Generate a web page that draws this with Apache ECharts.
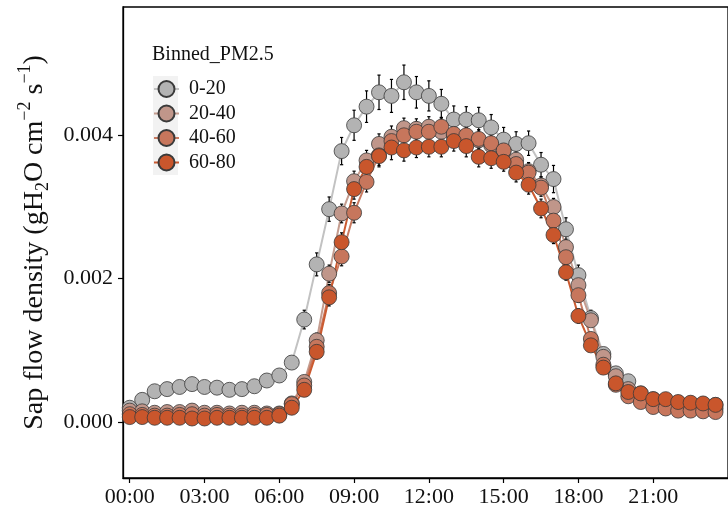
<!DOCTYPE html>
<html>
<head>
<meta charset="utf-8">
<script src="https://cdn.jsdelivr.net/npm/echarts@6/dist/echarts.min.js"></script>
<style>
html,body{margin:0;padding:0;background:#fff;}
#chart{width:728px;height:513px;}
</style>
</head>
<body>
<div id="chart"></div>
<script>
const hours = [0,0.5,1,1.5,2,2.5,3,3.5,4,4.5,5,5.5,6,6.5,7,7.5,8,8.5,9,9.5,10,10.5,11,11.5,12,12.5,13,13.5,14,14.5,15,15.5,16,16.5,17,17.5,18,18.5,19,19.5,20,20.5,21,21.5,22,22.5,23,23.5];

const seriesNames = ['0-20','20-40','40-60','60-80'];

const v0_20 = [0.00020,0.00031,0.00043,0.00046,0.00049,0.00053,0.00049,0.00048,0.00045,0.00046,0.00050,0.00058,0.00065,
  0.00083,0.00143,0.00220,0.00297,0.00378,0.00414,0.00440,0.00460,0.00455,0.00474,0.00460,0.00455,
  0.00444,0.00422,0.00422,0.00421,0.00411,0.00394,0.00388,0.00389,0.00359,0.00339,0.00269,0.00205,
  0.00145,0.00095,0.00068,0.00057,0.00040,0.00032,0.00030,0.00027,0.00026,0.00025,0.00024];
const v20_40 = [0.00016,0.00015,0.00013,0.00014,0.00014,0.00016,0.00013,0.00013,0.00012,0.00013,0.00013,0.00012,0.00012,
  0.00026,0.00056,0.00114,0.00207,0.00291,0.00336,0.00365,0.00388,0.00398,0.00410,0.00409,0.00412,
  0.00405,0.00400,0.00398,0.00393,0.00386,0.00378,0.00366,0.00350,0.00330,0.00300,0.00244,0.00191,
  0.00142,0.00091,0.00064,0.00046,0.00034,0.00028,0.00025,0.00022,0.00021,0.00020,0.00019];
const v40_60 = [0.00011,0.00010,0.00009,0.00009,0.00010,0.00011,0.00009,0.00010,0.00009,0.00009,0.00010,0.00010,0.00011,
  0.00025,0.00051,0.00105,0.00180,0.00231,0.00292,0.00335,0.00372,0.00392,0.00400,0.00405,0.00405,
  0.00412,0.00402,0.00400,0.00395,0.00389,0.00379,0.00360,0.00348,0.00327,0.00281,0.00230,0.00177,
  0.00116,0.00080,0.00052,0.00036,0.00028,0.00021,0.00019,0.00016,0.00016,0.00015,0.00014];
const v60_80 = [0.00007,0.00007,0.00006,0.00006,0.00006,0.00005,0.00005,0.00006,0.00006,0.00006,0.00006,0.00006,0.00009,
  0.00020,0.00045,0.00098,0.00174,0.00251,0.00325,0.00356,0.00371,0.00383,0.00379,0.00383,0.00384,
  0.00384,0.00392,0.00385,0.00370,0.00368,0.00363,0.00348,0.00331,0.00298,0.00261,0.00209,0.00148,
  0.00107,0.00076,0.00054,0.00042,0.00040,0.00032,0.00032,0.00028,0.00027,0.00026,0.00024];

const e0_20 = [0.00005,0.00005,0.00005,0.00005,0.00005,0.00005,0.00005,0.00005,0.00005,0.00005,0.00005,0.00005,0.00005,
  0.00008,0.00013,0.00016,0.00017,0.00019,0.00021,0.00022,0.00024,0.00023,0.00024,0.00022,0.00021,0.00020,0.00019,
  0.00018,0.00018,0.00018,0.00017,0.00017,0.00017,0.00017,0.00019,0.00016,0.00014,0.00011,0.00008,
  0.00006,0.00005,0.00005,0.00004,0.00004,0.00004,0.00004,0.00004,0.00004];
const e20_40 = [0.00004,0.00004,0.00004,0.00004,0.00004,0.00004,0.00004,0.00004,0.00004,0.00004,0.00004,0.00004,0.00004,
  0.00005,0.00008,0.00010,0.00012,0.00013,0.00014,0.00014,0.00014,0.00015,0.00014,0.00014,0.00014,0.00013,0.00013,
  0.00013,0.00013,0.00013,0.00012,0.00012,0.00012,0.00012,0.00012,0.00011,0.00010,0.00008,0.00007,
  0.00005,0.00004,0.00004,0.00004,0.00004,0.00004,0.00004,0.00004,0.00004];
const e40_60 = [0.00004,0.00004,0.00004,0.00004,0.00004,0.00004,0.00004,0.00004,0.00004,0.00004,0.00004,0.00004,0.00004,
  0.00005,0.00008,0.00010,0.00012,0.00013,0.00014,0.00014,0.00014,0.00014,0.00014,0.00014,0.00013,0.00013,0.00013,
  0.00013,0.00013,0.00013,0.00012,0.00012,0.00012,0.00012,0.00012,0.00011,0.00010,0.00008,0.00007,
  0.00005,0.00004,0.00004,0.00004,0.00004,0.00004,0.00004,0.00004,0.00004];
const e60_80 = [0.00004,0.00004,0.00004,0.00004,0.00004,0.00004,0.00004,0.00004,0.00004,0.00004,0.00004,0.00004,0.00004,
  0.00005,0.00008,0.00010,0.00012,0.00013,0.00014,0.00014,0.00015,0.00017,0.00015,0.00014,0.00014,0.00014,0.00014,
  0.00015,0.00014,0.00014,0.00013,0.00013,0.00013,0.00013,0.00012,0.00011,0.00010,0.00008,0.00007,
  0.00005,0.00004,0.00004,0.00004,0.00004,0.00004,0.00004,0.00004,0.00004];

const xTickValues = [0,3,6,9,12,15,18,21];
const yTickValues = [0,0.002,0.004];

const values = [v0_20, v20_40, v40_60, v60_80];
const errors = [e0_20, e20_40, e40_60, e60_80];
const pointColors = ['#B3B3B3','#C0968A','#C7765C','#C9562C'];
const lineColors = ['#C2C2C2','#C49C8F','#C97B62','#CB5A30'];

const FONT = "'Liberation Serif','Times New Roman',serif";

const series = [];
values.forEach((vals, i) => {
  series.push({
    name: seriesNames[i], type: 'line', z: 1,
    data: hours.map((h, k) => [h, vals[k]]),
    symbol: 'circle', showSymbol: false,
    lineStyle: { color: lineColors[i], width: 2 },
    itemStyle: { color: pointColors[i], borderColor: '#3a3a3a', borderWidth: 0.8 },
    silent: true, animation: false
  });
});
values.forEach((vals, i) => {
  series.push({
    name: seriesNames[i], type: 'custom', z: 2, silent: true, animation: false,
    data: hours.map((h, k) => [h, vals[k] - errors[i][k], vals[k] + errors[i][k]]),
    renderItem: function (params, api) {
      const lo = api.coord([api.value(0), api.value(1)]);
      const hi = api.coord([api.value(0), api.value(2)]);
      const c = 1.6;
      const st = { stroke: '#000', lineWidth: 1.2 };
      return { type: 'group', children: [
        { type: 'line', shape: { x1: lo[0], y1: lo[1], x2: hi[0], y2: hi[1] }, style: st },
        { type: 'line', shape: { x1: lo[0]-c, y1: lo[1], x2: lo[0]+c, y2: lo[1] }, style: st },
        { type: 'line', shape: { x1: hi[0]-c, y1: hi[1], x2: hi[0]+c, y2: hi[1] }, style: st }
      ]};
    }
  });
});
values.forEach((vals, i) => {
  series.push({
    name: seriesNames[i], type: 'scatter', z: 3, animation: false,
    data: hours.map((h, k) => [h, vals[k]]),
    symbol: 'circle', symbolSize: 15,
    itemStyle: { color: pointColors[i], borderColor: '#3a3a3a', borderWidth: 0.8, opacity: 1 }
  });
});

const chart = echarts.init(document.getElementById('chart'), null, { renderer: 'canvas' });
chart.setOption({
  animation: false,
  backgroundColor: '#ffffff',
  title: {
    text: 'Binned_PM2.5', left: 152, top: 45, padding: 0,
    textStyle: { fontFamily: FONT, fontSize: 20, fontWeight: 'normal', color: '#111' }
  },
  graphic: [{
    type: 'rect', left: 153, top: 76, z: 0, silent: true,
    shape: { width: 25, height: 99 },
    style: { fill: '#F2F2F2' }
  }],
  legend: {
    data: seriesNames, orient: 'vertical', left: 153, top: 79, padding: 0,
    itemWidth: 25, itemHeight: 20, itemGap: 4.5,
    selectedMode: false,
    textStyle: { fontFamily: FONT, fontSize: 20, color: '#111', padding: [0,0,0,5] }
  },
  grid: {
    left: 123, top: 7, right: -16, bottom: 35,
    show: true, borderColor: '#000', borderWidth: 1.3, backgroundColor: 'transparent'
  },
  xAxis: {
    type: 'value', min: -0.27, max: 24,
    axisLine: { show: true, onZero: false, lineStyle: { color: '#000', width: 1.3 } },
    axisTick: { show: true, length: 5, lineStyle: { color: '#000', width: 1.2 }, customValues: xTickValues },
    axisLabel: {
      customValues: xTickValues, margin: 8,
      fontFamily: FONT, fontSize: 22, color: '#111',
      formatter: v => String(Math.round(v)).padStart(2, '0') + ':00'
    },
    splitLine: { show: false }
  },
  yAxis: {
    type: 'value', min: -0.00078, max: 0.00579,
    name: '{a|Sap flow density (gH}{sub|2}{a|O cm}{sup|−2}{a| s}{sup|−1}{a|)}',
    nameLocation: 'middle', nameGap: 68, nameRotate: 90,
    nameTextStyle: {
      fontFamily: FONT, fontSize: 28, color: '#111',
      rich: {
        a: { fontFamily: FONT, fontSize: 28, color: '#111', lineHeight: 36, verticalAlign: 'middle' },
        sub: { fontFamily: FONT, fontSize: 18, color: '#111', lineHeight: 36, verticalAlign: 'bottom' },
        sup: { fontFamily: FONT, fontSize: 18, color: '#111', lineHeight: 36, verticalAlign: 'top' }
      }
    },
    axisLine: { show: true, onZero: false, lineStyle: { color: '#000', width: 1.3 } },
    axisTick: { show: true, length: 5, lineStyle: { color: '#000', width: 1.2 }, customValues: yTickValues },
    axisLabel: {
      customValues: yTickValues, margin: 10,
      fontFamily: FONT, fontSize: 22, color: '#111',
      formatter: v => v.toFixed(3)
    },
    splitLine: { show: false }
  },
  series: series
});
</script>
</body>
</html>
